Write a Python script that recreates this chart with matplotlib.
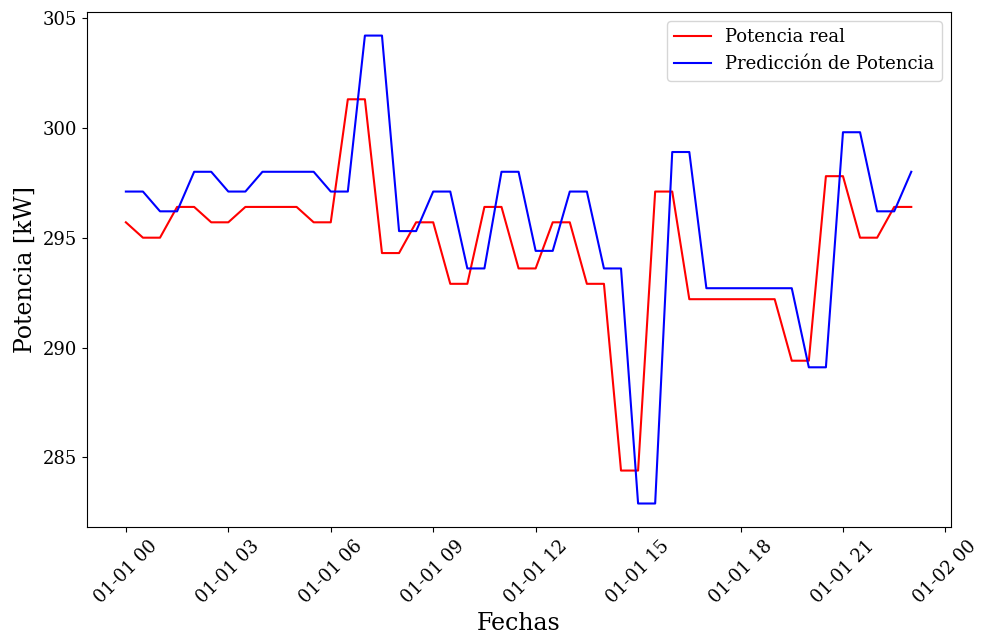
import pandas as pd
import numpy as np
import matplotlib.pyplot as plt
import matplotlib.dates as mdates

plt.rcParams['font.family'] = 'DejaVu Serif'

# Half-hourly power series for one day
potencia_real = [
    295.7,
    295.0, 295.0, 296.4, 296.4, 295.7, 295.7, 296.4, 296.4,
    296.4, 296.4, 295.7, 295.7, 301.3, 301.3, 294.3, 294.3,
    295.7, 295.7, 292.9, 292.9, 296.4, 296.4, 293.6, 293.6,
    295.7, 295.7, 292.9, 292.9, 284.4, 284.4, 297.1, 297.1,
    292.2, 292.2, 292.2, 292.2, 292.2, 292.2, 289.4, 289.4,
    297.8, 297.8, 295.0, 295.0, 296.4, 296.4,
]

potencia_pred = [
    297.1, 297.1, 296.2, 296.2, 298.0, 298.0, 297.1, 297.1,
    298.0, 298.0, 298.0, 298.0, 297.1, 297.1, 304.2, 304.2,
    295.3, 295.3, 297.1, 297.1, 293.6, 293.6, 298.0, 298.0,
    294.4, 294.4, 297.1, 297.1, 293.6, 293.6, 282.9, 282.9,
    298.9, 298.9, 292.7, 292.7, 292.7, 292.7, 292.7, 292.7,
    289.1, 289.1, 299.8, 299.8, 296.2, 296.2,
    298.0,
]

fechas = pd.date_range('2024-01-01 00:00', periods=len(potencia_real), freq='30min')

fig = plt.figure(figsize=(9.84, 6.41), dpi=100)
ax = fig.add_axes([0.088, 0.178, 0.878, 0.803])

ax.plot(fechas, potencia_real, color='red', label='Potencia real')
ax.plot(fechas, potencia_pred, color='blue', label='Predicción de Potencia')

ax.xaxis.set_major_locator(mdates.HourLocator(byhour=range(0, 24, 3)))
ax.xaxis.set_major_formatter(mdates.DateFormatter('%m-%d %H'))
ax.set_xlim(fechas[0] - pd.Timedelta(minutes=69), fechas[-1] + pd.Timedelta(minutes=69))

ax.tick_params(axis='both', labelsize=13)
plt.setp(ax.get_xticklabels(), rotation=45)

ax.set_xlabel('Fechas', fontsize=17)
ax.set_ylabel('Potencia [kW]', fontsize=17)
ax.legend(fontsize=13)

fig.savefig('out.png', dpi=100)
